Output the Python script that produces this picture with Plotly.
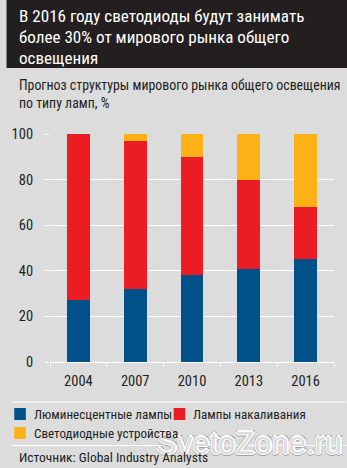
import plotly.graph_objects as go

years = ["2004", "2007", "2010", "2013", "2016"]
fluorescent = [27, 32, 38, 41, 45]
incandescent = [73, 65, 52, 39, 23]
led = [0, 3, 10, 20, 32]
series_names = ["Люминесцентные лампы", "Лампы накаливания", "Светодиодные устройства"]
series_colors = ["#00508a", "#ec1c24", "#fcb116"]
y_ticks = [0, 20, 40, 60, 80, 100]

title_lines = ["В 2016 году светодиоды будут занимать",
               "более 30% от мирового рынка общего",
               "освещения"]
subtitle_lines = ["Прогноз структуры мирового рынка общего освещения",
                  "по типу ламп, %"]
source_text = "Источник: Global Industry Analysts"
watermark = "SvetoZone.ru"

W, H = 347, 468
L, R, T, B = 40, 13, 134, 106
PW, PH = W - L - R, H - T - B

def px(x):
    return (x - L) / PW

def py(y):
    return (H - B - y) / PH

FONT = "Liberation Sans Narrow, Roboto Condensed, DejaVu Sans Condensed, Arial Narrow, sans-serif"
DARK = "#231f20"
BG = "#dcdcdd"

fig = go.Figure()
for name, vals, col in zip(series_names, [fluorescent, incandescent, led], series_colors):
    fig.add_trace(go.Bar(x=years, y=vals, name=name, marker=dict(color=col, line=dict(width=0)),
                         showlegend=False))

shapes = [
    dict(type="rect", xref="paper", yref="paper", x0=px(-5), x1=px(W + 5), y0=py(68), y1=py(-5),
         fillcolor=DARK, line=dict(width=0), layer="below"),
    dict(type="line", xref="paper", yref="paper", x0=px(0), x1=px(W), y0=py(402), y1=py(402),
         line=dict(color="white", width=1)),
    dict(type="line", xref="paper", yref="paper", x0=px(0), x1=px(W), y0=py(445.5), y1=py(445.5),
         line=dict(color="white", width=1)),
]
annotations = []

# outlined watermark: gray halo, white ring, background-coloured interior (drawn first)
wx, wy = 246.5, 443
dirs = [(1, 0), (-1, 0), (0, 1), (0, -1), (0.7, 0.7), (-0.7, 0.7), (0.7, -0.7), (-0.7, -0.7)]
for r, col in [(2.0, "#a3a3a3"), (1.2, "#ffffff")]:
    for dx, dy in dirs:
        annotations.append(dict(text=watermark, xref="paper", yref="paper",
                                x=px(wx + dx * r), y=py(wy + dy * r),
                                xanchor="center", yanchor="middle", showarrow=False,
                                font=dict(family="Liberation Sans, Arial, sans-serif", size=31, color=col)))
annotations.append(dict(text=watermark, xref="paper", yref="paper", x=px(wx), y=py(wy),
                        xanchor="center", yanchor="middle", showarrow=False,
                        font=dict(family="Liberation Sans, Arial, sans-serif", size=31, color=BG)))

for i, t in enumerate(title_lines):
    annotations.append(dict(text=t, xref="paper", yref="paper", x=px(6), y=py(15.5 + 21 * i),
                            xanchor="left", yanchor="middle", showarrow=False,
                            font=dict(family=FONT, size=17.1, color="white")))
for i, t in enumerate(subtitle_lines):
    annotations.append(dict(text=t, xref="paper", yref="paper", x=px(6), y=py(84.5 + 18.5 * i),
                            xanchor="left", yanchor="middle", showarrow=False,
                            font=dict(family=FONT, size=13.85, color=DARK)))

# legend built from series lists
leg_pos = [(3, 414), (168, 414), (3, 433)]
for (lx, ly), name, col in zip(leg_pos, series_names, series_colors):
    shapes.append(dict(type="rect", xref="paper", yref="paper", x0=px(lx), x1=px(lx + 12),
                       y0=py(ly + 6), y1=py(ly - 6), fillcolor=col, line=dict(width=0)))
    annotations.append(dict(text=name, xref="paper", yref="paper", x=px(lx + 18), y=py(ly),
                            xanchor="left", yanchor="middle", showarrow=False,
                            font=dict(family=FONT, size=13.1, color=DARK)))

annotations.append(dict(text=source_text, xref="paper", yref="paper", x=px(6), y=py(457),
                        xanchor="left", yanchor="middle", showarrow=False,
                        font=dict(family=FONT, size=13.5, color=DARK)))

fig.update_layout(
    width=W, height=H,
    margin=dict(l=L, r=R, t=T, b=B, pad=0),
    paper_bgcolor=BG, plot_bgcolor=BG,
    barmode="stack", bargap=0.6,
    showlegend=False,
    shapes=shapes, annotations=annotations,
    xaxis=dict(type="category", showgrid=False, showline=True, linecolor="white", linewidth=1,
               ticks="outside", tickson="boundaries", ticklen=4, tickcolor="white", tickwidth=1,
               tickfont=dict(family=FONT, size=14.5, color=DARK), ticklabelstandoff=6, fixedrange=True),
    yaxis=dict(range=[0, 100], tickvals=y_ticks, showgrid=True, gridcolor="white", gridwidth=1,
               zeroline=False, showline=False, ticks="outside", ticklen=4, tickcolor="white",
               tickfont=dict(family=FONT, size=14.5, color=DARK), ticklabelstandoff=9, fixedrange=True),
    font=dict(family=FONT, color=DARK),
)

fig.write_html("out.html")
